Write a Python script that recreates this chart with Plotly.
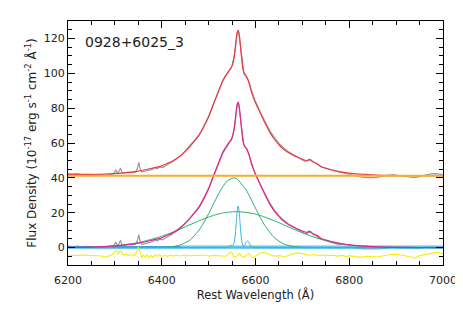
import plotly.graph_objects as go

# ============================================================================
# DATA
# ============================================================================

# Observed spectrum (with continuum)
OBS_WAVE = [6200, 6210, 6220, 6230, 6240, 6250, 6260, 6270, 6280, 6290,
            6296, 6300, 6302, 6305, 6308, 6312, 6315, 6320, 6328, 6336,
            6344, 6348, 6351, 6354, 6357, 6364, 6372, 6380, 6386, 6390,
            6396, 6402, 6408, 6414, 6420, 6430, 6440, 6450, 6460, 6470,
            6480, 6490, 6500, 6510, 6520, 6531, 6541, 6549, 6555, 6559,
            6561, 6563, 6565, 6567, 6571, 6575, 6581, 6587, 6591, 6599,
            6610, 6620, 6630, 6640, 6650, 6660, 6670, 6680, 6690, 6697,
            6705, 6712, 6718, 6725, 6733, 6740, 6750, 6760, 6770, 6780,
            6790, 6800, 6815, 6830, 6845, 6860, 6870, 6885, 6895, 6905,
            6920, 6935, 6945, 6955, 6965, 6975, 6985, 6995, 7000]
OBS_FLUX = [42.3, 42.1, 42.4, 42.0, 42.2, 41.9, 42.0, 41.7, 41.5, 41.9,
            42.3, 43.6, 44.7, 43.0, 43.4, 45.7, 43.2, 42.9, 43.3, 43.0,
            43.4, 45.5, 48.9, 45.0, 43.4, 43.8, 44.3, 44.9, 45.8, 45.2,
            46.3, 45.9, 47.0, 47.8, 48.8, 50.6, 52.6, 55.3, 58.3, 61.9,
            64.6, 69.4, 75.0, 82.0, 88.8, 96.0, 100.3, 103.4, 110.2, 119.4,
            123.0, 124.2, 122.3, 117.8, 107.4, 100.8, 98.2, 94.2, 90.3, 84.4,
            77.8, 72.2, 67.3, 63.2, 59.8, 57.2, 55.0, 53.6, 52.0, 50.6,
            49.5, 49.9, 50.3, 48.9, 47.6, 46.5, 45.4, 44.5, 43.8, 43.2,
            42.6, 42.1, 41.0, 40.2, 40.1, 40.3, 41.0, 41.4, 41.8, 41.3,
            41.0, 40.2, 40.4, 41.2, 41.8, 42.3, 42.4, 42.0, 41.8]

# Continuum-subtracted spectrum
SUB_FLUX = [0.8, 0.6, 0.9, 0.5, 0.7, 0.4, 0.5, 0.2, 0.0, 0.4,
            0.8, 2.1, 3.2, 1.5, 1.9, 4.2, 1.7, 1.4, 1.8, 1.5,
            1.9, 4.0, 7.4, 3.5, 1.9, 2.3, 2.8, 3.4, 4.3, 3.7,
            4.8, 4.4, 5.5, 6.3, 7.3, 9.1, 11.1, 13.8, 16.8, 20.4,
            23.1, 27.9, 33.5, 40.5, 47.3, 54.5, 58.8, 61.9, 68.7, 77.9,
            81.5, 82.7, 80.8, 76.3, 65.9, 59.3, 56.7, 52.7, 48.8, 42.9,
            36.3, 30.7, 25.8, 21.7, 18.3, 15.7, 13.5, 12.1, 10.5, 9.1,
            8.0, 8.4, 8.8, 7.4, 6.1, 5.0, 3.9, 3.0, 2.3, 1.7,
            1.1, 0.6, -0.3, -0.8, -0.9, -0.7, -0.5, -0.1, 0.3, -0.2,
            -0.5, -0.8, -0.6, -0.3, 0.3, 0.8, 0.9, 0.5, 0.3]

# Model curves: total fit and line-only fit
MOD_WAVE = [6200, 6250, 6300, 6350, 6400, 6410, 6420, 6430, 6440, 6450,
            6460, 6470, 6480, 6490, 6500, 6510, 6520,
            6531, 6533, 6535, 6537, 6539, 6541, 6543, 6545, 6547, 6549,
            6551, 6553, 6555, 6557, 6559, 6561, 6563, 6565, 6567, 6569,
            6571, 6573, 6575, 6577, 6579, 6581, 6583, 6585, 6587, 6589,
            6591, 6593, 6595, 6597, 6599,
            6610, 6620, 6630, 6640, 6650, 6660, 6670, 6680, 6690, 6700,
            6708, 6716, 6722, 6731, 6740, 6760, 6780, 6800, 6850, 6900,
            6950, 7000]
TOTAL_FIT = [42.0, 41.9, 42.4, 43.9, 46.9, 48.1, 49.2, 50.8, 52.7, 55.2,
             58.0, 61.2, 64.7, 69.7, 75.2, 82.2, 89.0,
             96.3, 97.2, 98.1, 98.9, 99.7, 100.6, 101.4, 102.0, 102.8, 103.7,
             105.0, 107.2, 110.6, 115.0, 119.9, 123.5, 124.6, 122.6, 118.1, 112.4,
             107.2, 103.0, 100.4, 99.0, 98.4, 97.8, 96.8, 95.5, 93.7, 91.7,
             89.7, 88.0, 86.5, 85.1, 83.7,
             77.4, 71.6, 66.4, 62.3, 59.0, 56.4, 54.5, 53.0, 51.8, 50.7,
             49.9, 50.6, 49.2, 48.2, 46.4, 44.8, 43.6, 42.7, 41.7, 41.3,
             41.25, 41.2]
LINE_FIT = [0.1, 0.3, 1.0, 2.6, 5.6, 6.9, 8.0, 9.6, 11.5, 14.0,
            16.8, 20.0, 23.5, 28.5, 34.0, 41.0, 47.8,
            55.1, 56.0, 56.9, 57.7, 58.5, 59.4, 60.2, 60.8, 61.6, 62.5,
            63.8, 66.0, 69.4, 73.8, 78.7, 82.3, 83.4, 81.4, 76.9, 71.2,
            66.0, 61.8, 59.2, 57.8, 57.2, 56.6, 55.6, 54.3, 52.5, 50.5,
            48.5, 46.8, 45.3, 43.9, 42.5,
            36.2, 30.4, 25.2, 21.1, 17.8, 15.2, 13.3, 11.8, 10.6, 9.5,
            8.7, 9.4, 8.0, 7.0, 5.2, 3.6, 2.4, 1.5, 0.5, 0.1,
            0.05, 0.0]

CONT_WAVE = [6200, 7000]
CONT_FLUX = [41.2, 41.2]

# Broad Gaussian components
BROAD_WAVE = [6200, 6250, 6300, 6350, 6400, 6420, 6440, 6460, 6480, 6500,
              6510, 6520, 6530, 6540, 6553, 6560, 6580, 6600, 6610, 6620,
              6640, 6660, 6680, 6700, 6720, 6740, 6760, 6780, 6800, 6850,
              6900, 6950, 7000]
BROAD1 = [0.0, 0.0, 0.0, 0.0, 0.1, 0.4, 1.5, 4.3, 10.1, 19.4,
          24.8, 30.2, 34.9, 38.3, 40.0, 39.5, 33.1, 22.6, 17.3, 12.6,
          5.7, 2.1, 0.6, 0.15, 0.02, 0.0, 0.0, 0.0, 0.0, 0.0,
          0.0, 0.0, 0.0]
BROAD2 = [0.06, 0.26, 0.96, 2.79, 6.45, 8.47, 10.7, 13.1, 15.4, 17.5,
          18.4, 19.2, 19.8, 20.2, 20.55, 20.6, 20.2, 19.2, 18.4, 17.5,
          15.4, 13.1, 10.7, 8.47, 6.45, 4.74, 3.36, 2.29, 1.51, 0.45,
          0.11, 0.02, 0.0]

# Narrow components (Ha + [NII] doublet)
NARROW_WAVE = [6200, 6533, 6535, 6537, 6539, 6541, 6543, 6545, 6547, 6549,
               6551, 6553, 6555, 6557, 6559, 6561, 6563, 6565, 6567, 6569,
               6571, 6573, 6575, 6577, 6579, 6581, 6583, 6585, 6587, 6589,
               6591, 6593, 6595, 6597, 7000]
NARROW = [0.0, 0.0, 0.01, 0.03, 0.1, 0.28, 0.6, 0.98, 1.26, 1.31,
          1.24, 1.6, 3.5, 7.8, 14.4, 21.0, 23.8, 21.0, 14.4, 7.7,
          3.24, 1.17, 0.77, 1.28, 2.3, 3.35, 3.8, 3.35, 2.3, 1.23,
          0.51, 0.17, 0.04, 0.0, 0.0]

# Residual (offset below zero)
RES_WAVE = [6200, 6215, 6230, 6245, 6260, 6272, 6280, 6288, 6295, 6300,
            6304, 6307, 6311, 6314, 6318, 6324, 6330, 6336, 6342, 6347,
            6350, 6353, 6357, 6361, 6365, 6369, 6373, 6377, 6381, 6386,
            6390, 6395, 6400, 6406, 6412, 6418, 6425, 6432, 6440, 6450,
            6460, 6470, 6480, 6490, 6500, 6510, 6520, 6530, 6537, 6542,
            6547, 6551, 6556, 6561, 6566, 6571, 6576, 6581, 6585, 6590,
            6595, 6600, 6607, 6614, 6620, 6628, 6636, 6645, 6652, 6660,
            6668, 6676, 6685, 6695, 6705, 6715, 6725, 6735, 6745, 6755,
            6765, 6775, 6785, 6795, 6800, 6808, 6818, 6825, 6835, 6848,
            6860, 6870, 6880, 6893, 6905, 6915, 6925, 6935, 6940, 6948,
            6958, 6970, 6980, 6988, 6995, 7000]
RESID = [-4.4, -4.6, -4.3, -4.5, -4.4, -4.8, -5.6, -4.6, -4.0, -2.2,
         -1.8, -3.8, -2.0, -2.4, -4.2, -3.8, -4.6, -4.0, -4.8, -2.0,
         0.2, -2.0, -5.8, -4.2, -5.6, -4.0, -6.0, -4.4, -5.8, -4.2,
         -5.2, -4.0, -5.2, -4.4, -5.0, -4.3, -4.9, -4.4, -4.8, -4.3,
         -4.7, -4.4, -4.6, -4.3, -4.8, -4.5, -4.7, -4.6, -5.0, -3.6,
         -2.4, -3.6, -5.8, -4.6, -3.4, -5.2, -5.6, -4.2, -3.4, -4.8,
         -6.0, -5.0, -3.6, -2.8, -3.0, -3.8, -4.6, -4.8, -4.6, -5.4,
         -4.8, -3.8, -3.2, -3.2, -3.8, -4.4, -4.0, -4.6, -4.3, -4.6,
         -4.4, -4.9, -4.5, -5.2, -4.6, -4.8, -5.0, -5.6, -5.0, -5.3,
         -5.4, -4.8, -4.3, -3.8, -4.0, -4.4, -5.0, -5.6, -5.9, -4.8,
         -4.2, -3.6, -3.0, -2.6, -3.0, -3.6]

BLUE_WAVE = [6200, 6440]
BLUE_FLUX = [0.6, 0.6]
GRAYLINE_WAVE = [6440, 7000]
GRAYLINE_FLUX = [1.0, 1.0]
ZERO_WAVE = [6200, 7000]
ZERO_FLUX = [0.0, 0.0]

X_TICKS = [6200, 6400, 6600, 6800, 7000]
Y_TICKS = [0, 20, 40, 60, 80, 100, 120]

# ============================================================================
# FIGURE
# ============================================================================

fig = go.Figure()


def add_line(x, y, color, width=1.0, spline=False):
    line = dict(color=color, width=width)
    if spline:
        line.update(shape="spline", smoothing=0.5)
    fig.add_trace(go.Scatter(
        x=x, y=y, mode="lines", line=line,
        showlegend=False, hoverinfo="skip"
    ))


add_line(OBS_WAVE, OBS_FLUX, "#9A9A9A", 1.2)
add_line(OBS_WAVE, SUB_FLUX, "#9A9A9A", 1.2)
add_line(BLUE_WAVE, BLUE_FLUX, "#4A3FA0", 1.2)
add_line(GRAYLINE_WAVE, GRAYLINE_FLUX, "#D2D2D2", 1.5)
add_line(ZERO_WAVE, ZERO_FLUX, "#45BFF0", 2.5)
add_line(BROAD_WAVE, BROAD1, "#25B06A", 1.0, spline=True)
add_line(BROAD_WAVE, BROAD2, "#25B06A", 1.0, spline=True)
add_line(NARROW_WAVE, NARROW, "#2AB4EE", 1.0, spline=True)
add_line(MOD_WAVE, LINE_FIT, "#E4238F", 1.2, spline=True)
add_line(MOD_WAVE, TOTAL_FIT, "#EC3A45", 1.2, spline=True)
add_line(CONT_WAVE, CONT_FLUX, "#FBAA2A", 1.8)
add_line(RES_WAVE, RESID, "#F5EE0A", 1.1)

fig.add_annotation(
    x=0.04, y=0.914, xref="paper", yref="paper", xanchor="left", yanchor="middle",
    text="0928+6025_3", showarrow=False,
    font=dict(family="DejaVu Sans", size=14, color="#222222")
)

axis_common = dict(
    showline=True, linecolor="black", linewidth=1.3, mirror="ticks",
    ticks="inside", ticklen=7, tickwidth=1, tickcolor="black",
    showgrid=False, zeroline=False, automargin=False,
    tickfont=dict(family="DejaVu Sans", size=11, color="#222222"),
)

fig.update_xaxes(
    range=[6200, 7000], tickvals=X_TICKS, ticklabelstandoff=5,
    minor=dict(dtick=50, tick0=6200, ticks="inside", ticklen=4, tickcolor="black"),
    title=dict(text="Rest Wavelength (Å)", standoff=1,
               font=dict(family="DejaVu Sans", size=11.5, color="#222222")),
    **axis_common
)
fig.update_yaxes(
    range=[-10, 130], tickvals=Y_TICKS,
    minor=dict(dtick=5, tick0=0, ticks="inside", ticklen=4, tickcolor="black"),
    title=dict(text="Flux Density (10<sup>-17</sup> erg s<sup>-1</sup> cm<sup>-2</sup> Å<sup>-1</sup>)",
               standoff=4, font=dict(family="DejaVu Sans", size=12, color="#222222")),
    **axis_common
)

# the page body adds an 8 px offset, so the figure is drawn 8 px smaller
fig.update_layout(
    width=455, height=301,
    margin=dict(l=60, r=20, t=13, b=44),
    paper_bgcolor="white", plot_bgcolor="white",
)

fig.write_html("out.html")
